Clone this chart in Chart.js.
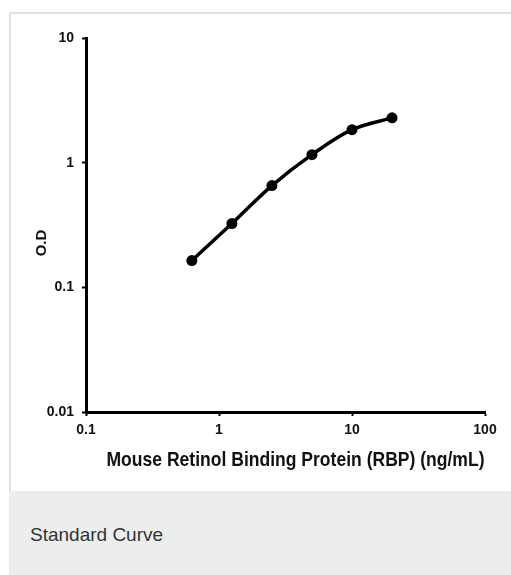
<!DOCTYPE html>
<html lang="en">
<head>
<meta charset="UTF-8">
<script src="https://cdn.jsdelivr.net/npm/chart.js@4.4.1/dist/chart.umd.min.js"></script>
<style>
    html, body { margin: 0; padding: 0; background: #fff; }
    body { width: 511px; height: 575px; position: relative; overflow: hidden; }
    .box {
        position: absolute; left: 9px; top: 12px; width: 530px; height: 477px;
        border-top: 2px solid #e2e2e2; border-left: 2px solid #e2e2e2; border-bottom: 2px solid #e2e2e2;
        background: #fff;
    }
    .caption {
        position: absolute; left: 9px; top: 491px; width: 530px; height: 84px;
        background: #eceeed; box-sizing: border-box; padding-left: 21px;
        font-family: "Liberation Sans", Arial, sans-serif; font-size: 19px; color: #333;
        line-height: 88px;
    }
    #std-curve { position: absolute; left: 0; top: 0; }
</style>
</head>
<body>
<div class="box"></div>
<div class="caption">Standard Curve</div>
<canvas id="std-curve" width="511" height="575"></canvas>
<script>
    // standard concentrations (ng/mL) and measured O.D
    var concentrations = [0.625, 1.25, 2.5, 5, 10, 20];
    var odValues = [0.164, 0.325, 0.655, 1.16, 1.84, 2.29];

    var xTicks = [0.1, 1, 10, 100];
    var yTicks = [0.01, 0.1, 1, 10];

    var xTitle = "Mouse Retinol Binding Protein (RBP) (ng/mL)";
    var yTitle = "O.D";

    var sans = '"Liberation Sans", Arial, sans-serif';

    var points = [];
    for (var i = 0; i < concentrations.length; i++) {
        points.push({ x: concentrations[i], y: odValues[i] });
    }

    // axis titles placed by hand, the original is not centered on the axes
    // and the x title uses a condensed face, so squeeze it to width
    var axisTitles = {
        id: 'axisTitles',
        afterDraw: function (chart) {
            var ctx = chart.ctx, a = chart.chartArea;
            ctx.save();
            ctx.fillStyle = '#111';
            ctx.textAlign = 'center';
            ctx.textBaseline = 'middle';
            ctx.font = 'bold 21px ' + sans;
            var w = ctx.measureText(xTitle).width;
            var k = Math.min(1, 378 / w);
            ctx.save();
            ctx.translate((a.left + a.right) / 2 + 10, a.bottom + 48);
            ctx.scale(k, 1);
            ctx.fillText(xTitle, 0, 0);
            ctx.restore();
            ctx.translate(a.left - 44, (a.top + a.bottom) / 2 + 18);
            ctx.rotate(-Math.PI / 2);
            ctx.font = 'bold 15px ' + sans;
            ctx.fillText(yTitle, 0, 0);
            ctx.restore();
        }
    };

    function tickLabel(v) { return String(v); }

    var ctx = document.getElementById('std-curve').getContext('2d');
    var chart = new Chart(ctx, {
        type: 'line',
        data: {
            datasets: [{
                data: points,
                borderColor: '#000',
                borderWidth: 3.5,
                backgroundColor: '#000',
                pointRadius: 5.5,
                pointBorderWidth: 0,
                pointBackgroundColor: '#000',
                tension: 0.35,
                fill: false
            }]
        },
        options: {
            responsive: false,
            animation: false,
            events: [],
            layout: { padding: { left: 0, right: 26, top: 38, bottom: 123 } },
            plugins: { legend: { display: false }, tooltip: { enabled: false } },
            scales: {
                x: {
                    type: 'logarithmic',
                    min: 0.1,
                    max: 100,
                    afterBuildTicks: function (s) { s.ticks = xTicks.map(function (v) { return { value: v }; }); },
                    afterFit: function (s) { s.height = 40; },
                    ticks: {
                        autoSkip: false, maxRotation: 0, padding: 6, color: '#111',
                        font: { family: sans, size: 14, weight: 'bold' },
                        callback: tickLabel
                    },
                    grid: { display: true, drawOnChartArea: false, drawTicks: true, tickLength: 4, tickWidth: 2, tickColor: '#000' },
                    border: { display: true, color: '#000', width: 3 }
                },
                y: {
                    type: 'logarithmic',
                    min: 0.01,
                    max: 10,
                    afterBuildTicks: function (s) { s.ticks = yTicks.map(function (v) { return { value: v }; }); },
                    afterFit: function (s) { s.width = 86; },
                    ticks: {
                        autoSkip: false, padding: 8, color: '#111',
                        font: { family: sans, size: 14, weight: 'bold' },
                        callback: tickLabel
                    },
                    grid: { display: true, drawOnChartArea: false, drawTicks: true, tickLength: 4, tickWidth: 2, tickColor: '#000' },
                    border: { display: true, color: '#000', width: 3 }
                }
            }
        },
        plugins: [axisTitles]
    });
</script>
</body>
</html>
